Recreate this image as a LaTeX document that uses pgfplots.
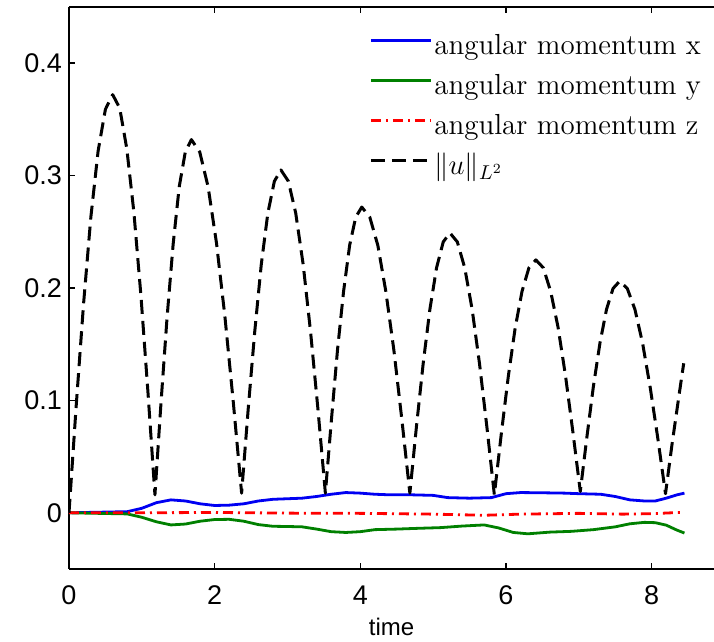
\documentclass[border=0pt]{standalone}
\usepackage{pgfplots}
\pgfplotsset{compat=1.18}
\usepackage{fontspec}
\newfontfamily\arial{Liberation Sans}
\definecolor{mblue}{rgb}{0,0,0.95}
\definecolor{mgreen}{rgb}{0,0.5,0}
\definecolor{mred}{rgb}{1,0,0}
\begin{document}
\begin{tikzpicture}
\useasboundingbox (-34.5pt,-36.5pt) rectangle (322.5pt,284.5pt);
\begin{axis}[
  scale only axis, width=322.5pt, height=281pt,
  at={(0,0)}, anchor=south west,
  xmin=0, xmax=8.856, ymin=-0.05, ymax=0.45,
  axis x line*=box, axis y line*=left,
  axis line style={line width=0.8pt},
  xtick={0,2,4,6,8}, ytick={0,0.1,0.2,0.3,0.4},
  tick align=inside, major tick length=3pt,
  tick style={line width=0.8pt, black},
  /pgf/number format/assume math mode=true,
  tick label style={font=\arial\fontsize{13.5}{16}\selectfont},
  xticklabel style={yshift=-5pt},
  xlabel={time},
  xlabel style={font=\arial\fontsize{12}{14}\selectfont, at={(axis description cs:0.5,0)}, anchor=center, yshift=-29pt},
  legend cell align=left,
  legend image code/.code={\draw[#1] (0pt,3.5pt) -- (30pt,3.5pt);},
  legend style={draw=none, fill=none, at={(axis description cs:0.4650,0.9555)}, anchor=north west,
    font=\fontsize{14.5}{16}\selectfont, inner sep=0pt, row sep=5pt,
    nodes={inner xsep=1pt, inner ysep=0pt, text height=11pt, text depth=4pt}},
]
\addplot[mblue, line width=1.4pt, line join=round] coordinates {
(0,0) (0.4,0.0005) (0.8,0.001) (1.0,0.004) (1.2,0.009) (1.4,0.0115) (1.6,0.0105) (1.8,0.008) (2.0,0.0065) (2.2,0.0068) (2.4,0.008) (2.6,0.0105) (2.8,0.012) (3.0,0.0125) (3.2,0.013) (3.4,0.0145) (3.6,0.0165) (3.8,0.018) (4.0,0.0175) (4.2,0.0165) (4.4,0.016) (4.7,0.016) (5.0,0.0155) (5.2,0.0135) (5.5,0.013) (5.8,0.0135) (6.0,0.017) (6.2,0.018) (6.5,0.0178) (6.8,0.0175) (7.0,0.017) (7.3,0.0165) (7.5,0.0145) (7.7,0.0115) (7.9,0.0105) (8.05,0.0105) (8.2,0.013) (8.35,0.016) (8.45,0.0175)
};
\addlegendentry{angular momentum x}
\addplot[mgreen, line width=1.4pt, line join=round] coordinates {
(0,0) (0.4,-0.0005) (0.8,-0.001) (1.0,-0.004) (1.2,-0.008) (1.4,-0.0108) (1.6,-0.01) (1.8,-0.0075) (2.0,-0.006) (2.2,-0.0058) (2.4,-0.0075) (2.6,-0.0105) (2.8,-0.012) (3.0,-0.0122) (3.2,-0.0125) (3.4,-0.0145) (3.6,-0.0168) (3.8,-0.0175) (4.0,-0.0168) (4.2,-0.015) (4.5,-0.0145) (4.8,-0.0138) (5.1,-0.0132) (5.4,-0.0118) (5.7,-0.0108) (5.9,-0.0135) (6.1,-0.0175) (6.3,-0.0187) (6.6,-0.0172) (6.9,-0.0165) (7.2,-0.015) (7.5,-0.0125) (7.7,-0.0098) (7.9,-0.0085) (8.05,-0.0088) (8.2,-0.011) (8.35,-0.0155) (8.45,-0.018)
};
\addlegendentry{angular momentum y}
\addplot[mred, line width=1.4pt, dash pattern=on 5pt off 2.5pt on 1pt off 2.5pt] coordinates {
(0,0) (1,0) (2,0.0003) (3,-0.0003) (4,-0.0005) (5,-0.0012) (5.7,-0.0022) (6.2,-0.0012) (7,-0.0005) (7.6,-0.0012) (8.0,-0.0008) (8.45,0.0005)
};
\addlegendentry{angular momentum z}
\addplot[black, line width=1.5pt, line join=round, dash pattern=on 7pt off 3.5pt] coordinates {
(0,0) (0.1,0.0963) (0.2,0.186) (0.3,0.263) (0.4,0.322) (0.5,0.359) (0.6,0.372)
(0.6967,0.360) (0.7933,0.324) (0.89,0.268) (0.9867,0.194) (1.0833,0.108) (1.18,0.016)
(1.2633,0.098) (1.3467,0.174) (1.43,0.239) (1.5133,0.290) (1.5967,0.321) (1.68,0.332)
(1.795,0.321) (1.91,0.290) (2.025,0.240) (2.14,0.175) (2.255,0.099) (2.37,0.0175)
(2.46,0.092) (2.55,0.161) (2.64,0.221) (2.73,0.2665) (2.82,0.295) (2.91,0.305)
(3.0117,0.295) (3.1133,0.2665) (3.215,0.221) (3.3167,0.161) (3.4183,0.092) (3.52,0.0175)
(3.6033,0.083) (3.6867,0.145) (3.77,0.197) (3.8533,0.238) (3.9367,0.263) (4.02,0.272)
(4.13,0.263) (4.24,0.238) (4.35,0.197) (4.46,0.145) (4.57,0.083) (4.68,0.0175)
(4.7717,0.0775) (4.8633,0.133) (4.955,0.181) (5.0467,0.218) (5.1383,0.241) (5.23,0.249)
(5.3317,0.241) (5.4333,0.218) (5.535,0.181) (5.6367,0.1325) (5.7383,0.076) (5.84,0.016)
(5.935,0.070) (6.03,0.1205) (6.125,0.164) (6.22,0.197) (6.315,0.218) (6.41,0.225)
(6.5117,0.218) (6.6133,0.197) (6.715,0.165) (6.8167,0.122) (6.9183,0.072) (7.02,0.019)
(7.11,0.067) (7.20,0.1125) (7.29,0.151) (7.38,0.181) (7.47,0.1996) (7.56,0.206)
(7.665,0.1996) (7.77,0.181) (7.875,0.151) (7.98,0.1115) (8.085,0.066) (8.19,0.017)
(8.2817,0.062) (8.3733,0.1035) (8.44,0.133)
};
\addlegendentry{$\|u\|_{L^2}$}
\end{axis}
\end{tikzpicture}
\end{document}
